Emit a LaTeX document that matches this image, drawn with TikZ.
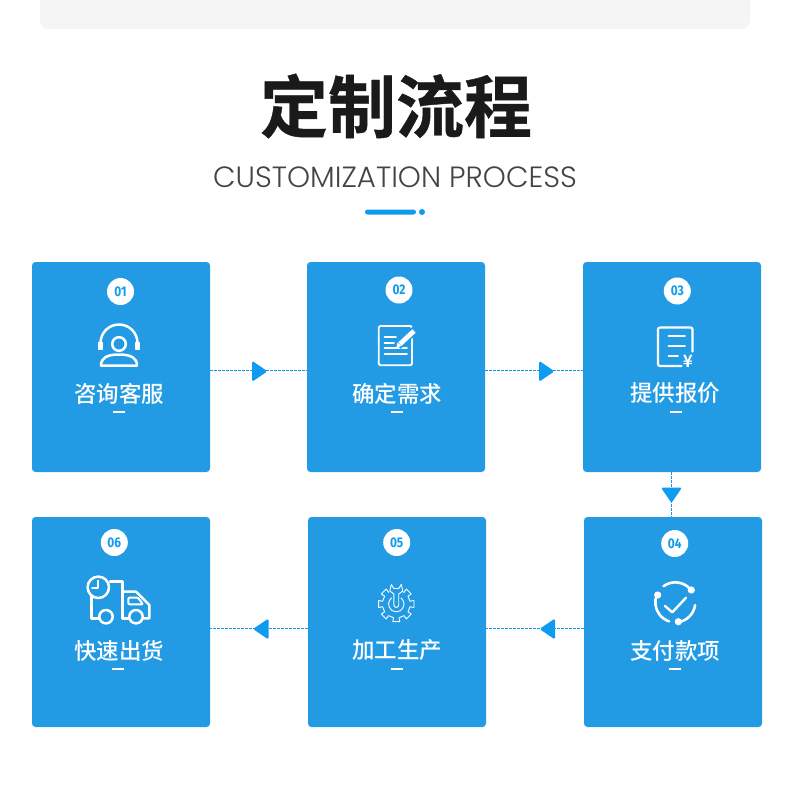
\documentclass[tikz,border=0pt]{standalone}
\usepackage{fontspec}
\setmainfont{Noto Sans CJK SC Medium}
\newfontfamily\titlef[FakeBold=0.6]{Noto Sans CJK SC Bold}
\newfontfamily\enf{Poppins Light}
\newfontfamily\numf[FakeStretch=0.85]{Fira Sans}
\newfontfamily\yenf{Noto Sans CJK SC Bold}
\definecolor{card}{HTML}{229BE4}
\definecolor{accent}{HTML}{0F9BEF}
\definecolor{dark}{HTML}{1A1A1A}
\definecolor{engl}{HTML}{444444}
\definecolor{panel}{HTML}{F5F5F5}
\tikzset{
  x=1pt,y=-1pt,
  cardbox/.style={fill=card,rounded corners=3.5pt,minimum width=178pt,minimum height=210pt,inner sep=0pt,draw=none},
  numdot/.style={circle,fill=white,minimum size=27pt,inner sep=0pt,text=accent,font=\numf\bfseries\fontsize{14}{14}\selectfont},
  steplabel/.style={text=white,inner sep=0pt,font=\fontsize{22.5}{24}\selectfont},
  conn/.style={draw=accent,line width=0.8pt,dash pattern=on 2.6pt off 1.4pt},
  ico/.style={draw=white,line width=2.5pt,line cap=round,line join=round},
  tri/.pic={\fill[accent,rounded corners=1.6pt] (-7.5,-10.5) -- (8,0) -- (-7.5,10.5) -- cycle;},
  dashbar/.style={fill=white,minimum width=12pt,minimum height=1.8pt,inner sep=0pt}
}
\begin{document}
\begin{tikzpicture}
\useasboundingbox (0,0) rectangle (790,787);
\fill[white] (0,0) rectangle (790,787);
\fill[panel,rounded corners=8pt] (40,-20) rectangle (750,29);
\node[text=dark,inner sep=0pt,font=\titlef\fontsize{68}{70}\selectfont] (title) at (396,106) {定制流程};
\node[text=engl,inner sep=0pt,font=\enf\fontsize{29.3}{30}\selectfont] (sub) at (395,177) {CUSTOMIZATION PROCESS};
\fill[accent,rounded corners=2.5pt] (365,209.5) rectangle (416,214.5);
\fill[accent] (422,212) circle (3);
% cards
\node[cardbox] (c1) at (121,367) {};
\node[cardbox] (c2) at (396,367) {};
\node[cardbox] (c3) at (672,367) {};
\node[cardbox] (c4) at (673,622) {};
\node[cardbox] (c5) at (397,622) {};
\node[cardbox] (c6) at (121,622) {};
% connectors
\draw[conn] ([yshift=-3pt]c1.east) -- ([yshift=-3pt]c2.west);
\draw[conn] ([yshift=-3pt]c2.east) -- ([yshift=-3pt]c3.west);
\draw[conn] ([xshift=-0.5pt]c3.south) -- ([xshift=-1.5pt]c4.north);
\draw[conn] ([yshift=-6.5pt]c4.west) -- ([yshift=-6.5pt]c5.east);
\draw[conn] ([yshift=-6.5pt]c5.west) -- ([yshift=-6.5pt]c6.east);
\pic at (259.5,371.3) {tri};
\pic at (546.5,371.3) {tri};
\pic[rotate=-90] at (671.5,495) {tri};
\pic[rotate=180] at (261,629) {tri};
\pic[rotate=180] at (547.5,629) {tri};
% numbers
\node[numdot] (n1) at (120.5,291.5) {01};
\node[numdot] (n2) at (399,290) {02};
\node[numdot] (n3) at (677.3,291) {03};
\node[numdot] (n4) at (674.7,543.5) {04};
\node[numdot] (n5) at (396.7,542.5) {05};
\node[numdot] (n6) at (114.3,542.5) {06};
% labels
\node[steplabel] (l1) at (119,393.5) {咨询客服};
\node[steplabel] (l2) at (397,393.5) {确定需求};
\node[steplabel] (l3) at (675,393.5) {提供报价};
\node[steplabel] (l4) at (675,650.5) {支付款项};
\node[steplabel] (l5) at (397,650.5) {加工生产};
\node[steplabel] (l6) at (119,650.5) {快速出货};
\node[dashbar] (d1) at (119,412) {};
\node[dashbar] (d2) at (397,412) {};
\node[dashbar] (d3) at (675.5,412) {};
\node[dashbar] (d4) at (675,669) {};
\node[dashbar] (d5) at (397,669) {};
\node[dashbar] (d6) at (118,669) {};
% icon 1 headset
\draw[ico] (119,344) circle (6.8);
\draw[ico] (100.5,343) arc (-180:0:18.5);
\draw[ico,line width=1.6pt,fill=white] (98.5,343) rectangle (102.5,349);
\draw[ico,line width=1.6pt,fill=white] (135.5,343) rectangle (139.5,349);
\draw[ico,line cap=butt] (101,365.5) .. controls (101,358) and (107,354.5) .. (119,354.5) .. controls (131,354.5) and (137,358) .. (137,365.5) -- cycle;
% icon 2 notes
\draw[ico,line width=1.8pt,rounded corners=1.5pt] (378.7,326) rectangle (412,365.3);
\draw[ico,line width=1.7pt] (384.5,337.3) -- (396,337.3) (384.5,342.7) -- (394,342.7) (384.5,348) -- (407,348) (384.5,354) -- (407,354);
\draw[card,line width=8pt] (398,346) -- (416,329);
\draw[white,line width=4.8pt] (400,344) -- (414,331);
\fill[white] (396.5,347.5) -- (397.5,342.5) -- (401.5,346) -- cycle;
% icon 3 bill
\draw[ico,line width=2.2pt,rounded corners=2pt] (692.5,351.5) -- (692.5,327.5) -- (658,327.5) -- (658,366) -- (681.5,366);
\draw[ico,line width=1.8pt] (668.5,336) -- (685,336) (668.5,346) -- (685,346) (668.5,356) -- (678,356);
\node[text=white,inner sep=0pt,font=\yenf\fontsize{17}{17}\selectfont] (yen) at (688,361) {¥};
% icon 4 check
\draw[ico,line width=2.6pt] (691.1,590.1) arc (-37.7:-126:20);
\draw[ico,line width=2.6pt] (656.9,594.5) arc (-157:-252:20);
\draw[ico,line width=2.6pt] (678.4,622.1) arc (-279:-352:20);
\fill[white] (691.3,590) circle (3.6) (657.7,595) circle (3.6) (678.3,621.7) circle (3.6);
\draw[ico,line width=2.4pt] (665,606) -- (672.3,612.3) -- (686,597.7);
% icon 5 gear
\begin{scope}[shift={(396.3,604)}]
\draw[white,line width=0.9pt,line join=round]
  (-11.25:14) \foreach \a in {0,45,...,315}{
     -- ({\a-11.25}:18) -- ({\a+11.25}:18) -- ({\a+11.25}:14) arc[start angle={\a+11.25},end angle={\a+33.75},radius=14]
  } -- cycle;
\fill[card] (-7,-20) rectangle (7,-11);
\draw[white,line width=0.9pt] (-5.5,-11.8) -- (-5.5,-13.2);
\draw[white,line width=0.9pt,line join=round] (-2.4,1) -- (-2.4,-10) -- (-6.5,-13) -- (-5,-19.5) -- (-2.5,-15.5) -- (2.5,-15.5) -- (5,-19.5) -- (6.5,-13) -- (2.4,-10) -- (2.4,1) arc (0:180:2.4);
\draw[white,line width=0.9pt] (4.5,-6.2) arc (-54:234:7.7);
\end{scope}
% icon 6 truck
\draw[ico] (110,581.7) -- (122.7,581.7) -- (122.7,618.3) -- (136,618.3) (91.7,596.7) -- (91.7,618.3) -- (106,618.3);
\draw[ico] (122.7,591.7) -- (136,591.7) -- (149.3,605) -- (149.3,618.3) -- (136,618.3);
\draw[ico,line width=2pt,rounded corners=1pt] (128.3,597.7) -- (138,597.7) -- (143,604.3) -- (128.3,604.3) -- cycle;
\draw[ico,fill=card] (106,616.7) circle (6.7);
\draw[ico,fill=card] (136,616.7) circle (6.7);
\draw[ico,fill=card] (98.3,587.3) circle (10.7);
\draw[ico,line width=1.7pt] (98.3,580.5) -- (98.3,588) -- (92,588);
\end{tikzpicture}
\end{document}
